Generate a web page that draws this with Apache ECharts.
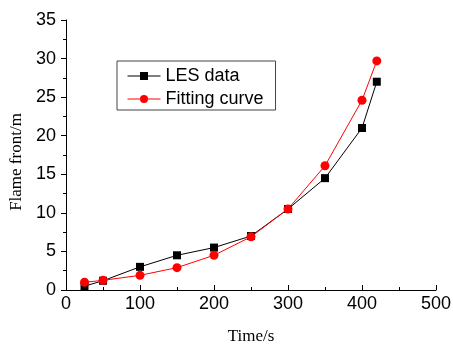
<!DOCTYPE html>
<html>
<head>
<meta charset="utf-8">
<script src="https://cdn.jsdelivr.net/npm/echarts@6/dist/echarts.min.js"></script>
<style>
  html, body { margin: 0; padding: 0; background: #fff; }
  #chart { width: 453px; height: 349px; }
</style>
</head>
<body>
<div id="chart"></div>
<script>
const times = [25, 50, 100, 150, 200, 250, 300, 350, 400, 420];
const lesData = [0.5, 1.2, 3.0, 4.5, 5.5, 7.0, 10.5, 14.5, 21.0, 27.0];
const fitData = [1.0, 1.25, 1.9, 2.9, 4.5, 6.9, 10.5, 16.1, 24.6, 29.7];
const seriesNames = ['LES data', 'Fitting curve'];

const pair = (ys) => times.map((t, i) => [t, ys[i]]);

const chart = echarts.init(document.getElementById('chart'));

const option = {
  animation: false,
  grid: { left: 66, right: 17, top: 20, bottom: 59, outerBoundsMode: 'none' },
  legend: {
    orient: 'vertical',
    left: 117,
    top: 61,
    padding: [6, 12, 2, 10],
    itemGap: 5,
    itemWidth: 33,
    itemHeight: 10,
    borderColor: '#444',
    borderWidth: 1,
    lineStyle: { width: 1 },
    textStyle: { color: '#000', fontFamily: 'Liberation Sans, Arial', fontSize: 18 },
    data: seriesNames
  },
  xAxis: {
    type: 'value',
    min: 0,
    max: 500,
    interval: 100,
    name: 'Time/s',
    nameLocation: 'middle',
    nameGap: 38,
    nameTextStyle: { color: '#000', fontFamily: 'Liberation Serif, Times New Roman', fontSize: 17 },
    axisLine: { lineStyle: { color: '#000', width: 1 } },
    axisTick: { inside: true, length: 5, lineStyle: { color: '#000' } },
    minorTick: { show: true, splitNumber: 2, length: 3, lineStyle: { color: '#000' } },
    axisLabel: { color: '#000', fontFamily: 'Liberation Sans, Arial', fontSize: 18, margin: 5 },
    splitLine: { show: false }
  },
  yAxis: {
    type: 'value',
    min: 0,
    max: 35,
    interval: 5,
    name: 'Flame front/m',
    nameLocation: 'middle',
    nameGap: 40,
    nameRotate: 90,
    nameTextStyle: {
      color: '#000', fontFamily: 'Liberation Serif, Times New Roman', fontSize: 17,
      padding: [0, 14, 0, 0]
    },
    axisLine: { show: true, lineStyle: { color: '#000', width: 1 } },
    axisTick: { show: true, inside: false, length: 5, lineStyle: { color: '#000' } },
    minorTick: { show: true, splitNumber: 2, length: 3, lineStyle: { color: '#000' } },
    axisLabel: { color: '#000', fontFamily: 'Liberation Sans, Arial', fontSize: 18, margin: 10 },
    splitLine: { show: false }
  },
  series: [
    {
      name: seriesNames[0],
      type: 'line',
      data: pair(lesData),
      symbol: 'rect',
      symbolSize: 8,
      itemStyle: { color: '#000' },
      lineStyle: { color: '#000', width: 1 },
      z: 2
    },
    {
      name: seriesNames[1],
      type: 'line',
      data: pair(fitData),
      symbol: 'circle',
      symbolSize: 9,
      itemStyle: { color: '#ff0000' },
      lineStyle: { color: '#ff0000', width: 1 },
      z: 3
    }
  ]
};

chart.setOption(option);
</script>
</body>
</html>
